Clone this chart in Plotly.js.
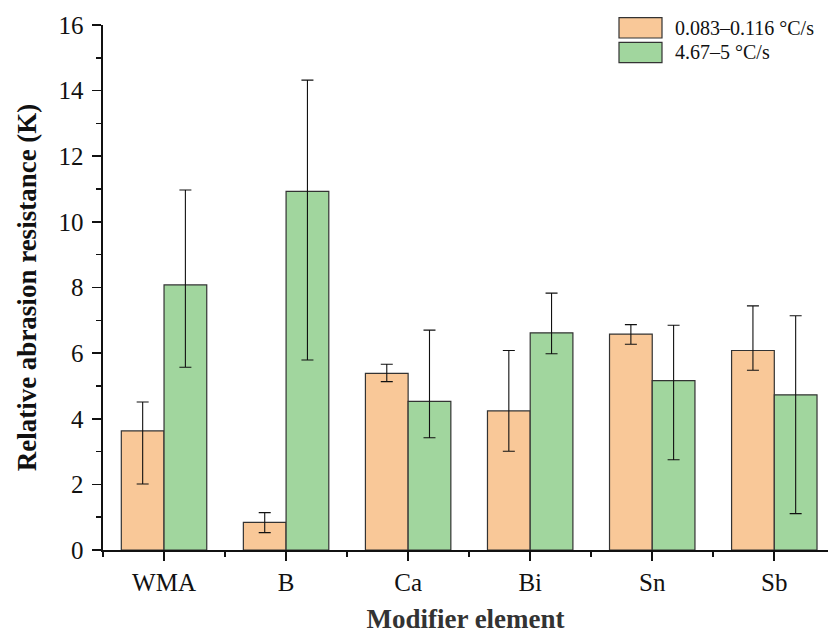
<!DOCTYPE html>
<html>
<head>
<meta charset="utf-8">
<script src="https://cdn.plot.ly/plotly-3.0.1.min.js"></script>
<style>html,body{margin:0;padding:0;background:#fff;}#chart{width:828px;height:634px;}</style>
</head>
<body>
<div id="chart"></div>
<script>
const categories = ['WMA', 'B', 'Ca', 'Bi', 'Sn', 'Sb'];
const seriesNames = ['0.083–0.116 °C/s', '4.67–5 °C/s'];
const slowValues = [3.63, 0.84, 5.38, 4.24, 6.58, 6.08];
const slowErrPlus = [0.88, 0.30, 0.28, 1.84, 0.29, 1.36];
const slowErrMinus = [1.62, 0.31, 0.25, 1.23, 0.31, 0.60];
const fastValues = [8.08, 10.93, 4.53, 6.62, 5.16, 4.73];
const fastErrPlus = [2.89, 3.39, 2.17, 1.21, 1.69, 2.41];
const fastErrMinus = [2.51, 5.14, 1.11, 0.64, 2.41, 3.62];
const yTicks = [0, 2, 4, 6, 8, 10, 12, 14, 16];

const colors = ['#F9C898', '#A1D69E'];
const xIdx = categories.map((c, i) => i);
const font = '"Liberation Serif", "Times New Roman", serif';

function errObj(plus, minus) {
  return {type: 'data', symmetric: false, array: plus, arrayminus: minus,
          color: '#111', thickness: 1.1, width: 6};
}

const traces = [
  {type: 'bar', name: seriesNames[0], x: xIdx, y: slowValues,
   marker: {color: colors[0], line: {color: '#333', width: 1.2}},
   error_y: errObj(slowErrPlus, slowErrMinus), showlegend: false},
  {type: 'bar', name: seriesNames[1], x: xIdx, y: fastValues,
   marker: {color: colors[1], line: {color: '#333', width: 1.2}},
   error_y: errObj(fastErrPlus, fastErrMinus), showlegend: false}
];

// legend drawn with paper-coordinate swatches and text
const W = 725, H = 525.3;
function px2x(p) { return (p - 103) / W; }
function py2y(p) { return (550 - p) / H; }
const legTops = [17.3, 42];
const shapes = [];
const annotations = [];
seriesNames.forEach((n, i) => {
  shapes.push({type: 'rect', xref: 'paper', yref: 'paper',
    x0: px2x(619), x1: px2x(662), y0: py2y(legTops[i]), y1: py2y(legTops[i] + 20.4),
    fillcolor: colors[i], line: {color: '#333', width: 1.2}});
  annotations.push({xref: 'paper', yref: 'paper', x: px2x(673), y: py2y(legTops[i] + 10.2),
    xanchor: 'left', yanchor: 'middle', text: n, showarrow: false,
    font: {family: font, size: 20, color: '#111'}});
});

const layout = {
  width: 828, height: 634,
  margin: {l: 103, r: 0, t: 24.7, b: 84},
  paper_bgcolor: '#fff', plot_bgcolor: '#fff',
  barmode: 'group', bargap: 0.3, bargroupgap: 0,
  showlegend: false,
  font: {family: font, color: '#111'},
  xaxis: {
    range: [-0.5, 5.44], tickvals: xIdx, ticktext: categories,
    showgrid: false, zeroline: false, showline: true, linecolor: '#111', linewidth: 1.6,
    ticks: 'outside', ticklen: 9, tickwidth: 1.6, tickcolor: '#111',
    tickfont: {family: font, size: 25, color: '#111'},
    minor: {tickvals: [-0.5, 0.5, 1.5, 2.5, 3.5, 4.5], ticks: 'outside', ticklen: 5, tickwidth: 1.6, tickcolor: '#111', showgrid: false},
    title: {text: '<b>Modifier element</b>', font: {family: font, size: 27, color: '#333'}, standoff: 20}
  },
  yaxis: {
    range: [0, 16], tickvals: yTicks,
    showgrid: false, zeroline: false, showline: true, linecolor: '#111', linewidth: 1.6,
    ticks: 'outside', ticklen: 9, tickwidth: 1.6, tickcolor: '#111',
    ticklabelstandoff: 4,
    tickfont: {family: font, size: 25, color: '#111'},
    minor: {tickvals: [1, 3, 5, 7, 9, 11, 13, 15], ticks: 'outside', ticklen: 5, tickwidth: 1.6, tickcolor: '#111', showgrid: false},
    title: {text: '<b>Relative abrasion resistance (K)</b>', font: {family: font, size: 27, color: '#111'}, standoff: 14}
  },
  shapes: shapes,
  annotations: annotations
};

Plotly.newPlot('chart', traces, layout, {displayModeBar: false, staticPlot: true});
</script>
</body>
</html>
